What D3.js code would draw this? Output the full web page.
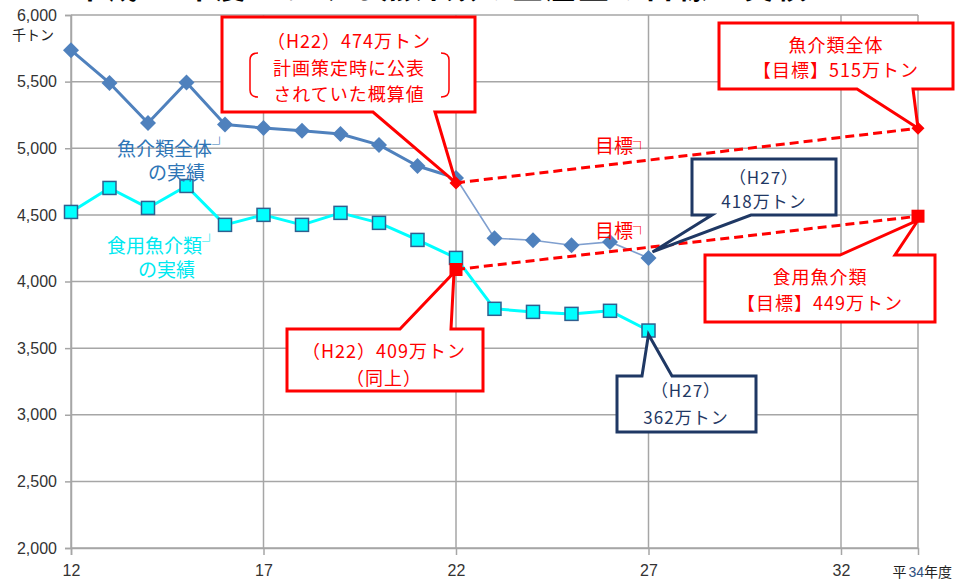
<!DOCTYPE html>
<html><head><meta charset="utf-8">
<script src="https://cdn.jsdelivr.net/npm/d3@7"></script>
<style>
html,body{margin:0;padding:0;background:#fff;overflow:hidden}
svg{display:block}
text{font-family:"Noto Sans CJK JP","Noto Sans",sans-serif}
</style></head>
<body>
<script>
// ---- data ----
const years = [12,13,14,15,16,17,18,19,20,21,22,23,24,25,26,27];
const totalActual = [5736,5490,5190,5494,5178,5152,5131,5107,5025,4867,4777,4325,4310,4272,4297,4177];
const foodActual  = [4522,4702,4552,4717,4425,4500,4425,4515,4440,4312,4177,3795,3772,3757,3780,3632];
const targetYears = [22,34];
const totalTarget = [4740,5150];
const foodTarget  = [4090,4490];
const xTicks = [12,17,22,27,32];
const yTicks = [2000,2500,3000,3500,4000,4500,5000,5500,6000];
const titleText = "平成34年度における魚介類の生産量の目標と実績";

const W = 955, H = 580;
const svg = d3.select("body").append("svg").attr("width",W).attr("height",H);
const x = d3.scaleLinear().domain([12,34]).range([71,918]);
const y = d3.scaleLinear().domain([2000,6000]).range([548,15]);
const grid = "#A6A6A6";

// title (cut off at top as in original)
svg.append("text").attr("x",75).attr("y",-2).attr("font-size",30).attr("font-weight","bold")
  .attr("fill","#000").attr("letter-spacing",3).text(titleText);

// grid
svg.append("g").selectAll("line").data(yTicks).join("line")
  .attr("x1",x(12)).attr("x2",x(34)).attr("y1",d=>y(d)).attr("y2",d=>y(d))
  .attr("stroke",grid).attr("stroke-width",1.5);
svg.append("g").selectAll("line").data(xTicks.concat([34])).join("line")
  .attr("x1",d=>x(d)).attr("x2",d=>x(d)).attr("y1",y(6000)).attr("y2",y(2000))
  .attr("stroke",grid).attr("stroke-width",1.5);

// axes
const yAxis = svg.append("g").attr("transform",`translate(${x(12)},0)`)
  .call(d3.axisLeft(y).tickValues(yTicks).tickSize(6).tickPadding(8).tickFormat(d3.format(",")));
const xAxis = svg.append("g").attr("transform",`translate(0,${y(2000)})`)
  .call(d3.axisBottom(x).tickValues(xTicks).tickSize(7).tickPadding(12).tickFormat(d3.format("d")));
[yAxis,xAxis].forEach(a=>{
  a.select(".domain").attr("stroke",grid).attr("stroke-width",1.5);
  a.selectAll(".tick line").attr("stroke",grid).attr("stroke-width",1.5);
  a.selectAll(".tick text").attr("fill","#333").attr("font-size",16)
    .style("font-family","'Liberation Sans',sans-serif");
});
xAxis.selectAll(".tick text").attr("dy","0.55em");

svg.append("text").attr("x",12).attr("y",40).attr("font-size",14).attr("fill","#222").text("千トン");
const yl = svg.append("text").attr("x",952).attr("y",577).attr("text-anchor","end").attr("font-size",14).attr("fill","#222");
yl.append("tspan").text("平");
yl.append("tspan").attr("fill","#2F4F80").attr("dx",2).style("font-family","'Liberation Sans',sans-serif").text("34");
yl.append("tspan").text("年度");

// ---- series ----
const pts = (xs,vs)=>xs.map((d,i)=>[x(d),y(vs[i])]);
const i22 = years.indexOf(22);
const tot = pts(years,totalActual);
const food = pts(years,foodActual);
const line = d3.line();

// total: solid thick until 22, thin after
svg.append("path").attr("d",line(tot.slice(0,i22+1))).attr("fill","none")
  .attr("stroke","#4F81BD").attr("stroke-width",3).attr("stroke-linejoin","round");
svg.append("path").attr("d",line(tot.slice(i22))).attr("fill","none")
  .attr("stroke","#7F9FCF").attr("stroke-width",1.6);
svg.append("path").attr("d",line(food)).attr("fill","none")
  .attr("stroke","#00FFFF").attr("stroke-width",3).attr("stroke-linejoin","round");

svg.append("g").selectAll("path").data(tot).join("path")
  .attr("transform",d=>`translate(${d[0]},${d[1]})`)
  .attr("d","M0,-8L8,0L0,8L-8,0Z").attr("fill","#4F81BD");
svg.append("g").selectAll("rect").data(food).join("rect")
  .attr("x",d=>d[0]-6.5).attr("y",d=>d[1]-6.5).attr("width",13).attr("height",13)
  .attr("fill","#00FFFF").attr("stroke","#2F5F8F").attr("stroke-width",1.5);

// targets
const tTot = pts(targetYears,totalTarget);
const tFood = pts(targetYears,foodTarget);
[tTot,tFood].forEach(p=>{
  svg.append("path").attr("d",line(p)).attr("fill","none").attr("stroke","#FF0000")
    .attr("stroke-width",3).attr("stroke-dasharray","9,5");
});
svg.append("g").selectAll("path").data(tTot).join("path")
  .attr("transform",d=>`translate(${d[0]},${d[1]})`)
  .attr("d","M0,-6.5L6.5,0L0,6.5L-6.5,0Z").attr("fill","#FF0000");
svg.append("g").selectAll("rect").data(tFood).join("rect")
  .attr("x",d=>d[0]-6.5).attr("y",d=>d[1]-6.5).attr("width",13).attr("height",13)
  .attr("fill","#FF0000");

// ---- callouts ----
function callout(b, side, p0, p1, tip, color){
  const [x0,y0,x1,y1] = b;
  let d;
  if(side==="bottom"){
    d = `M${x0},${y0}L${x1},${y0}L${x1},${y1}L${p1},${y1}L${tip[0]},${tip[1]}L${p0},${y1}L${x0},${y1}Z`;
  } else {
    d = `M${x0},${y0}L${p0},${y0}L${tip[0]},${tip[1]}L${p1},${y0}L${x1},${y0}L${x1},${y1}L${x0},${y1}Z`;
  }
  svg.append("path").attr("d",d).attr("fill","#fff").attr("stroke",color)
    .attr("stroke-width",3).attr("stroke-linejoin","miter");
}
function lines(cx, ys, texts, color, size){
  texts.forEach((t,i)=>{
    svg.append("text").attr("x",cx).attr("y",ys[i]).attr("text-anchor","middle")
      .attr("font-size",size||18).attr("letter-spacing",1).attr("fill",color).text(t);
  });
}
const red = "#FF0000", navy = "#1F3864";

callout([222,17,475,112],"bottom",373,435,[x(22),y(totalTarget[0])],red);
lines(349,[48,75,101],["（H22）474万トン","計画策定時に公表","されていた概算値"],red,18);
svg.append("path").attr("d","M258,53Q250,53 250,60L250,90Q250,97 258,97").attr("fill","none").attr("stroke",red).attr("stroke-width",1.5);
svg.append("path").attr("d","M441,53Q449,53 449,60L449,90Q449,97 441,97").attr("fill","none").attr("stroke",red).attr("stroke-width",1.5);

callout([719,23,953,89],"bottom",857,913,[x(34),y(totalTarget[1])],red);
lines(836,[52,77],["魚介類全体","【目標】515万トン"],red,18);

callout([692,159,836,215],"bottom",712,751,[x(27)+4,y(totalActual[totalActual.length-1])-6],navy);
lines(764,[184,208],["（H27）","418万トン"],navy,17);

callout([705,255,935,322],"top",840,895,[x(34),y(foodTarget[1])+4],red);
lines(820,[284,310],["食用魚介類","【目標】449万トン"],red,18);

callout([287,329,483,391],"top",400,451,[x(22)-2,y(foodTarget[0])+3],red);
lines(384,[358,385],["（H22）409万トン","（同上）"],red,18);

callout([617,376,756,432],"top",642,672,[x(27),y(foodActual[foodActual.length-1])+4],navy);
lines(686,[397,424],["（H27）","362万トン"],navy,17);

// series labels
function label(xp, yp, t, mark, color){
  const tx = svg.append("text").attr("x",xp).attr("y",yp).attr("font-size",19).attr("fill",color);
  tx.append("tspan").text(t);
  if(mark) tx.append("tspan").attr("font-size",15).attr("dy",-6).text(mark);
}
label(117,156,"魚介類全体","┘","#2E75B6");
label(148,180,"の実績",null,"#2E75B6");
label(107,253,"食用魚介類","┘","#00E8F0");
label(138,277,"の実績",null,"#00E8F0");
label(595,153,"目標","┐",red);
label(595,238,"目標","┐",red);
</script>
</body></html>
